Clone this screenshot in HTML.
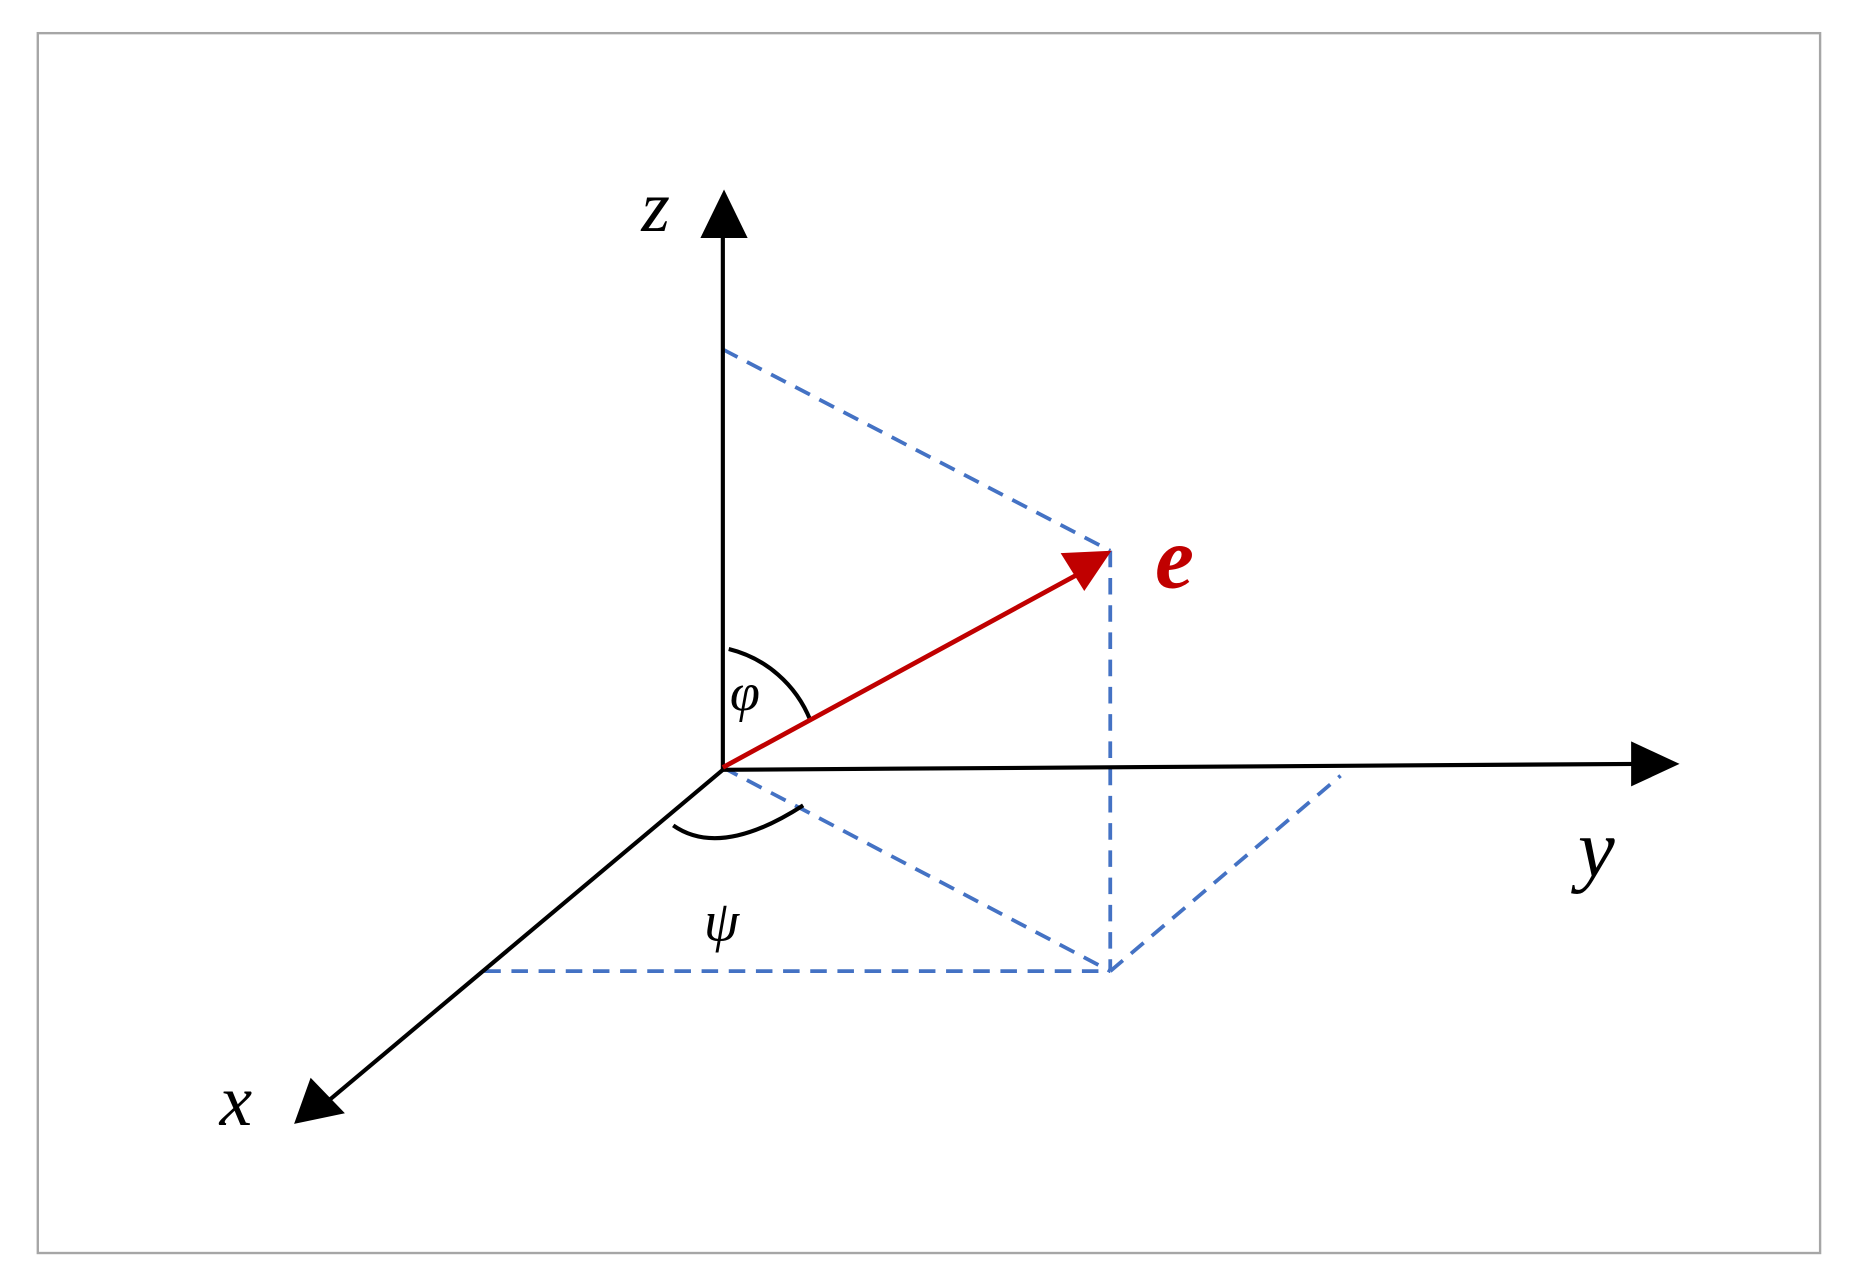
<!DOCTYPE html>
<html><head><meta charset="utf-8"><style>
html,body{margin:0;padding:0;background:#fff;}
svg{display:block;}
</style></head><body>
<svg width="1852" height="1285" viewBox="0 0 1568 1085" preserveAspectRatio="none" xmlns="http://www.w3.org/2000/svg">
<rect x="32" y="28" width="1509" height="1030" fill="#fff" stroke="#a6a6a6" stroke-width="2"/>
<g stroke="#4472c4" stroke-width="3.2" stroke-dasharray="14,9" fill="none">
<line x1="612" y1="295" x2="940" y2="465"/>
<line x1="940" y1="465" x2="940" y2="820"/>
<line x1="612" y1="648" x2="940" y2="820"/>
<line x1="410" y1="820" x2="940" y2="820"/>
<line x1="940" y1="820" x2="1135" y2="655"/>
</g>
<g stroke="#000" stroke-width="3.5" fill="none">
<line x1="612" y1="650" x2="612" y2="198"/>
<line x1="612" y1="650" x2="1386" y2="645"/>
<line x1="612" y1="650" x2="275" y2="932"/>
<path d="M617 548 A100 100 0 0 1 686 608"/>
<path d="M570 697 Q610 725 680 680"/>
</g>
<polygon points="613,160 593,201 633,201" fill="#000"/>
<polygon points="1422,645 1381,626 1381,664" fill="#000"/>
<polygon points="249,949 263,910 292,940" fill="#000"/>
<line x1="612" y1="648" x2="918" y2="482" stroke="#c00000" stroke-width="4"/>
<polygon points="941,465 898,467 918,499" fill="#c00000"/>
<g font-family="Liberation Serif, serif" font-style="italic" fill="#000">
<text x="543" y="195" font-size="62">z</text>
<text x="1336" y="740" font-size="70">y</text>
<text x="186" y="950" font-size="62">x</text>
<text x="618" y="600" font-size="46">φ</text>
<text x="596" y="794" font-size="48">ψ</text>
</g>
<text x="978" y="496" font-family="Liberation Serif, serif" font-style="italic" font-weight="bold" font-size="74" fill="#c00000">e</text>
</svg>
</body></html>
